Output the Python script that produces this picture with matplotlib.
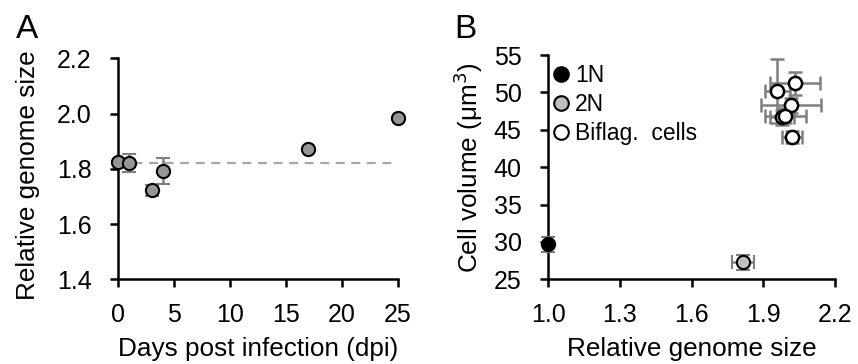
import matplotlib
matplotlib.use("Agg")
import matplotlib.pyplot as plt
from matplotlib.lines import Line2D

plt.rcParams['font.family'] = ['Liberation Sans', 'DejaVu Sans']

# Panel A: relative genome size over time
dpi_days = [0, 1, 3, 4, 17, 25]
genome_size = [1.825, 1.822, 1.723, 1.793, 1.872, 1.984]
genome_err = [0.005, 0.032, 0.02, 0.047, 0.005, 0.005]
baseline = 1.82

# Panel B: cell volume vs relative genome size
n1_x, n1_y, n1_yerr = [1.0], [29.7], [1.0]
n2_x, n2_y, n2_xerr, n2_yerr = [1.816], [27.3], [0.047], [1.0]
bif_x = [1.959, 2.033, 2.015, 1.977, 1.993, 2.021]
bif_y = [50.2, 51.2, 48.3, 46.7, 46.9, 44.1]
bif_xerr = [0.052, 0.105, 0.125, 0.05, 0.087, 0.042]
bif_yerr = [4.3, 1.6, 1.0, 1.0, 1.0, 0.8]

FS = 18      # tick labels
LFS = 18.8   # axis labels
GREY_ERR = '#7f7f7f'
ms = 9.5

fig = plt.figure(figsize=(8.58, 3.64), dpi=100)
axA = fig.add_axes([0.1375, 0.2327, 0.3264, 0.607])
axB = fig.add_axes([0.6387, 0.2327, 0.3345, 0.616])

def style(ax):
    for s in ['top', 'right']:
        ax.spines[s].set_visible(False)
    for s in ['left', 'bottom']:
        ax.spines[s].set_linewidth(1.8)
    ax.tick_params(direction='out', length=6, width=1.8, labelsize=FS)
    ax.tick_params(axis='y', pad=13)
    ax.tick_params(axis='x', pad=11)

# A
axA.plot([dpi_days[0], dpi_days[-1]], [baseline, baseline], ls=(0, (4, 3)),
         color='#a6a6a6', lw=1.6, zorder=1)
axA.errorbar(dpi_days, genome_size, yerr=genome_err, fmt='o', ms=ms,
             mfc='#969696', mec='black', mew=1.5, ecolor=GREY_ERR,
             elinewidth=1.8, capsize=5, capthick=1.8, clip_on=False, zorder=3)
axA.set_xlim(0, 25)
axA.set_ylim(1.4, 2.2)
axA.set_xticks([0, 5, 10, 15, 20, 25])
axA.set_yticks([1.4, 1.6, 1.8, 2.0, 2.2])
axA.set_yticklabels(['1.4', '1.6', '1.8', '2.0', '2.2'])
style(axA)
axA.set_xlabel('Days post infection (dpi)', fontsize=LFS, labelpad=7)
axA.set_ylabel('Relative genome size', fontsize=LFS)
axA.yaxis.set_label_coords(-0.28, 0.47)

# B
axB.errorbar(bif_x, bif_y, xerr=bif_xerr, yerr=bif_yerr, fmt='o', ms=ms,
             mfc='white', mec='black', mew=1.8, ecolor=GREY_ERR,
             elinewidth=1.8, capsize=5, capthick=1.8, clip_on=False, zorder=3)
axB.errorbar(n2_x, n2_y, xerr=n2_xerr, yerr=n2_yerr, fmt='o', ms=ms,
             mfc='#bfbfbf', mec='black', mew=1.5, ecolor=GREY_ERR,
             elinewidth=1.8, capsize=5, capthick=1.8, clip_on=False, zorder=3)
axB.errorbar(n1_x, n1_y, yerr=n1_yerr, fmt='o', ms=ms,
             mfc='black', mec='black', mew=1.5, ecolor=GREY_ERR,
             elinewidth=1.8, capsize=5, capthick=1.8, clip_on=False, zorder=3)
axB.set_xlim(1.0, 2.2)
axB.set_ylim(25, 55)
axB.set_xticks([1.0, 1.3, 1.6, 1.9, 2.2])
axB.set_xticklabels(['1.0', '1.3', '1.6', '1.9', '2.2'])
axB.set_yticks([25, 30, 35, 40, 45, 50, 55])
style(axB)
axB.set_xlabel('Relative genome size', fontsize=LFS, labelpad=7)
axB.set_ylabel('Cell volume (μm$^3$)', fontsize=LFS, labelpad=6)

lms = 10.5
handles = [
    Line2D([], [], marker='o', ls='None', ms=lms, mfc='black', mec='black', mew=1.5, label='1N'),
    Line2D([], [], marker='o', ls='None', ms=lms, mfc='#bfbfbf', mec='black', mew=1.5, label='2N'),
    Line2D([], [], marker='o', ls='None', ms=lms, mfc='white', mec='black', mew=1.5, label='Biflag.  cells'),
]
axB.legend(handles=handles, loc='upper left', bbox_to_anchor=(-0.025, 1.02), frameon=False,
           fontsize=16.5, handlelength=0.6, handletextpad=0.3, labelspacing=0.25,
           borderaxespad=0.2)

fig.text(0.019, 0.895, 'A', fontsize=24)
fig.text(0.530, 0.895, 'B', fontsize=24)

fig.savefig('out.png', dpi=100)
